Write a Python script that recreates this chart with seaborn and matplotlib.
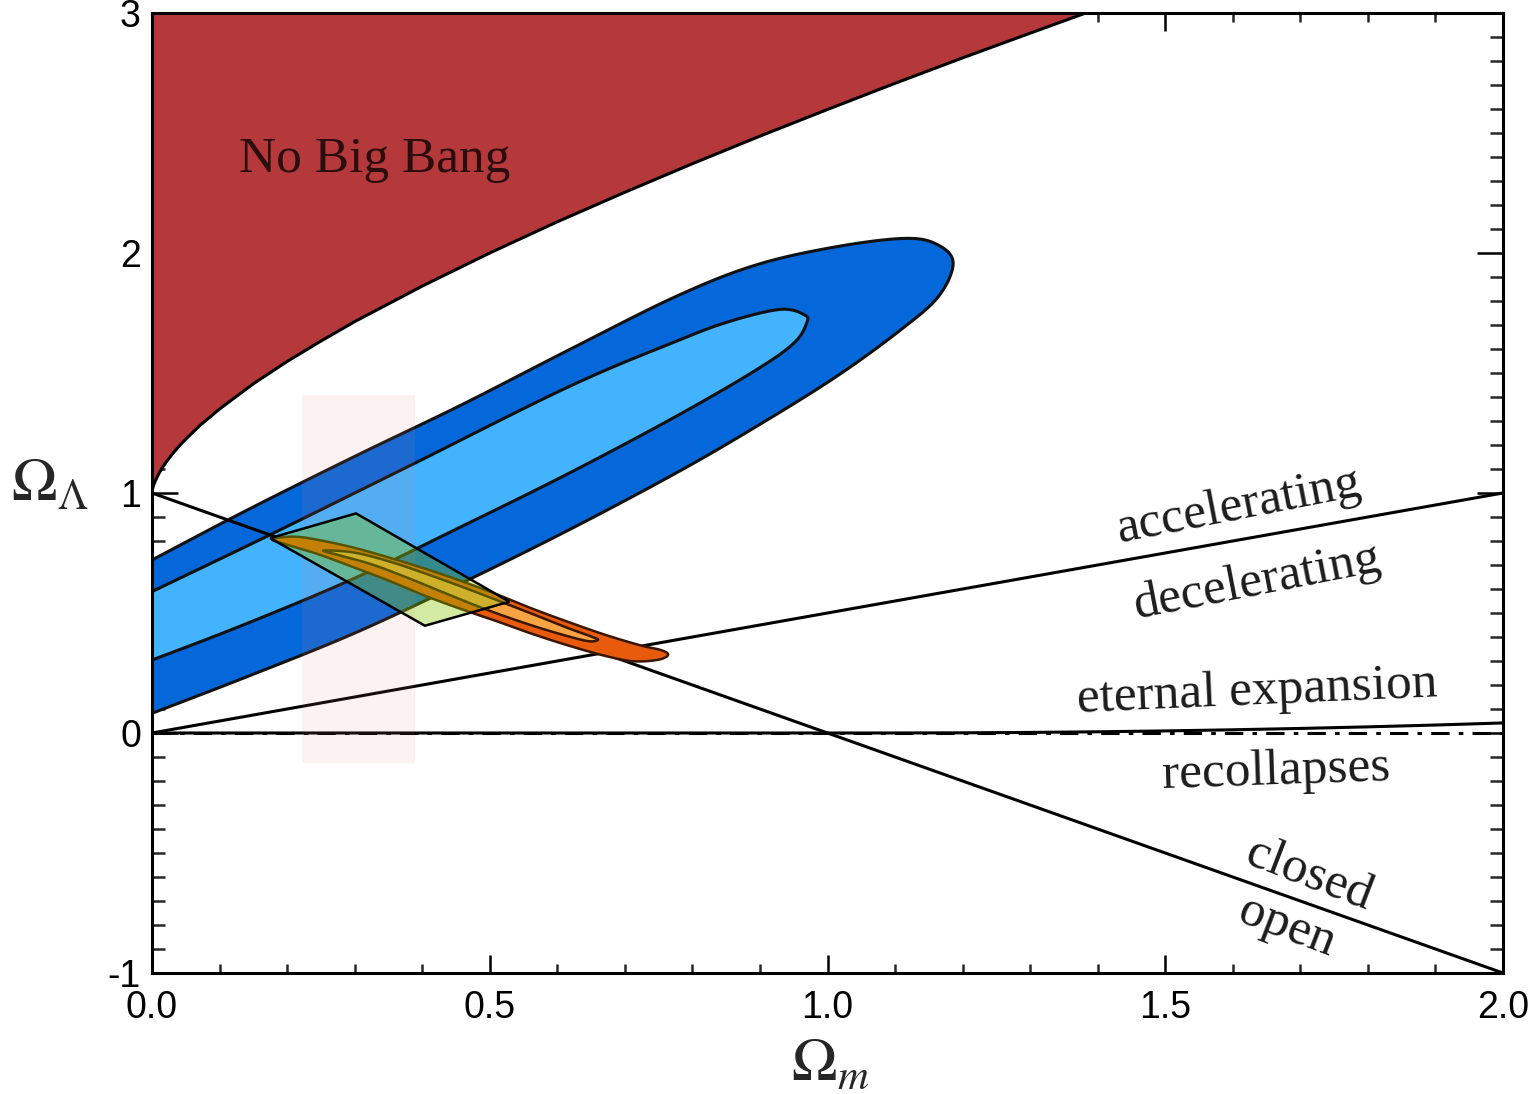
import numpy as np
import matplotlib
matplotlib.use("Agg")
import matplotlib.pyplot as plt
from matplotlib.ticker import MultipleLocator
import pandas as pd
import seaborn as sns

# ---------------------------------------------------------------- data
# "No Big Bang" boundary (Omega_m, Omega_Lambda)
nbb_om = [0.0, 0.001, 0.002, 0.005, 0.01, 0.015, 0.02, 0.03, 0.04, 0.05,
          0.07, 0.1, 0.15, 0.2, 0.25, 0.3, 0.4, 0.5, 0.6, 0.7, 0.8, 0.9,
          1.0, 1.1, 1.2, 1.3, 1.4]
nbb_ol = [1.0, 1.018, 1.029, 1.051, 1.08, 1.104, 1.125, 1.162, 1.195, 1.224,
          1.279, 1.35, 1.455, 1.548, 1.633, 1.714, 1.862, 2.0, 2.13, 2.253,
          2.372, 2.487, 2.598, 2.707, 2.813, 2.916, 3.018]

# flat universe: closed / open
flat_om = [0.0, 2.0]
flat_ol = [1.0, -1.0]

# q0 = 0: accelerating / decelerating
acc_om = [0.0, 2.0]
acc_ol = [0.0, 1.0]

# eternal expansion / recollapse boundary
rec_om = [0.0, 1.0, 1.1, 1.2, 1.3, 1.4, 1.5, 1.6, 1.7, 1.8, 1.9, 2.0]
rec_ol = [0.0, 0.0, 0.0001, 0.0008, 0.0024, 0.005, 0.0087, 0.0134, 0.019,
          0.0256, 0.0332, 0.0419]

# supernova confidence contours (outer = 95 %, inner = 68 %)
sn_outer_om = [-0.1, 0.0, 0.141, 0.299, 0.458, 0.617, 0.775, 0.894, 1.013,
               1.116, 1.164, 1.186, 1.164, 1.108, 1.013, 0.894, 0.775, 0.617,
               0.458, 0.299, 0.141, 0.0, -0.1]
sn_outer_ol = [0.574, 0.721, 0.929, 1.151, 1.367, 1.596, 1.818, 1.950, 2.026,
               2.061, 2.033, 1.957, 1.818, 1.679, 1.485, 1.276, 1.082, 0.846,
               0.624, 0.415, 0.235, 0.082, -0.026]
sn_inner_om = [-0.1, 0.0, 0.169, 0.379, 0.617, 0.775, 0.854, 0.930, 0.966,
               0.969, 0.950, 0.894, 0.775, 0.617, 0.458, 0.299, 0.141, 0.0,
               -0.1]
sn_inner_ol = [0.45, 0.589, 0.818, 1.110, 1.443, 1.631, 1.714, 1.765, 1.742,
               1.707, 1.624, 1.512, 1.318, 1.082, 0.860, 0.644, 0.457, 0.304,
               0.20]

# cluster / BAO contours
cl_outer_om = [0.178, 0.210, 0.247, 0.299, 0.352, 0.405, 0.458, 0.511, 0.564,
               0.617, 0.670, 0.722, 0.754, 0.764, 0.749, 0.712, 0.670, 0.617,
               0.564, 0.511, 0.458, 0.405, 0.352, 0.299, 0.247, 0.204]
cl_outer_ol = [0.807, 0.818, 0.804, 0.772, 0.730, 0.684, 0.633, 0.577, 0.517,
               0.462, 0.410, 0.366, 0.345, 0.325, 0.305, 0.299, 0.322, 0.364,
               0.412, 0.465, 0.516, 0.571, 0.633, 0.690, 0.744, 0.781]
cl_inner_om = [0.254, 0.299, 0.352, 0.405, 0.458, 0.511, 0.564, 0.617, 0.651,
               0.660, 0.643, 0.590, 0.537, 0.485, 0.432, 0.379, 0.326, 0.278]
cl_inner_ol = [0.760, 0.752, 0.714, 0.664, 0.610, 0.553, 0.495, 0.436, 0.401,
               0.388, 0.384, 0.424, 0.472, 0.525, 0.585, 0.646, 0.702, 0.740]

# CMB constraint (parallelogram)
cmb_om = [0.175, 0.302, 0.529, 0.404]
cmb_ol = [0.812, 0.915, 0.547, 0.447]

# Omega_m band from clusters
band_om = [0.222, 0.389]
band_ol = [-0.125, 1.408]

x_ticks = [0.0, 0.5, 1.0, 1.5, 2.0]
x_tick_labels = ["0.0", "0.5", "1.0", "1.5", "2.0"]
y_ticks = [-1, 0, 1, 2, 3]
y_tick_labels = ["-1", "0", "1", "2", "3"]


def closed_outline(xs, ys, n=16):
    """Smooth closed Catmull-Rom outline through the given vertices."""
    p = np.column_stack([xs, ys]).astype(float)
    m = len(p)
    t = np.linspace(0.0, 1.0, n, endpoint=False)[:, None]
    segs = []
    for i in range(m):
        p0, p1, p2, p3 = p[(i - 1) % m], p[i], p[(i + 1) % m], p[(i + 2) % m]
        segs.append(0.5 * (2 * p1 + (p2 - p0) * t
                           + (2 * p0 - 5 * p1 + 4 * p2 - p3) * t ** 2
                           + (3 * p1 - p0 - 3 * p2 + p3) * t ** 3))
    out = np.vstack(segs)
    return out[:, 0], out[:, 1]


# ---------------------------------------------------------------- style
sns.set_theme(style="ticks")
plt.rcParams["font.family"] = ["Liberation Sans", "DejaVu Sans"]
plt.rcParams["mathtext.fontset"] = "stix"

fig = plt.figure(figsize=(15.39, 10.94), dpi=100)
ax = fig.add_axes([152 / 1539, 1 - 973 / 1094, 1351 / 1539, 960 / 1094])

RED = "#B5393B"
BLUE_DARK = "#0467DA"
BLUE_LIGHT = "#43B3FD"
ORANGE_DARK = "#E85B0C"
ORANGE_LIGHT = "#F9A444"
EDGE = "#111111"

# No Big Bang region
ax.fill_between(nbb_om, nbb_ol, 3.2, color=RED, lw=0, zorder=1)
ax.fill_betweenx([1.0, 3.2], -0.1, 0.0, color=RED, lw=0, zorder=1)

# supernova contours
ax.fill(*closed_outline(sn_outer_om, sn_outer_ol), facecolor=BLUE_DARK,
        edgecolor=EDGE, lw=2.2, zorder=2)
ax.fill(*closed_outline(sn_inner_om, sn_inner_ol), facecolor=BLUE_LIGHT,
        edgecolor=EDGE, lw=2.2, zorder=3)

# boundary lines
lines = pd.DataFrame({
    "om": nbb_om + flat_om + acc_om + rec_om,
    "ol": nbb_ol + flat_ol + acc_ol + rec_ol,
    "kind": (["nbb"] * len(nbb_om) + ["flat"] * len(flat_om)
             + ["acc"] * len(acc_om) + ["rec"] * len(rec_om)),
})
sns.lineplot(data=lines, x="om", y="ol", units="kind", estimator=None,
             sort=False, color="black", lw=2.2, ax=ax, zorder=4)
ax.plot([0.0, 2.0], [0.0, 0.0], color="black", lw=2.2,
        ls=(0, (6, 3, 1.5, 3)), zorder=4)

# cluster band
ax.fill_between(band_om, band_ol[0], band_ol[1], color="#F08080",
                alpha=0.1, lw=0, zorder=5)

# cluster / BAO contours
ax.fill(*closed_outline(cl_outer_om, cl_outer_ol), facecolor=ORANGE_DARK,
        edgecolor="#3a1600", lw=1.8, zorder=6)
ax.fill(*closed_outline(cl_inner_om, cl_inner_ol), facecolor=ORANGE_LIGHT,
        edgecolor="#3a1600", lw=1.8, zorder=6)

# CMB parallelogram
ax.fill(cmb_om, cmb_ol, facecolor=(0.53, 0.78, 0.0, 0.36),
        edgecolor="black", lw=1.8, zorder=7)

# ---------------------------------------------------------------- labels
serif = ["Liberation Serif", "DejaVu Serif"]
tcol = "#1c1c1c"
ax.text(0.330, 2.388, "No Big Bang", family=serif, fontsize=37,
        color="#2b0d0d", ha="center", va="center", zorder=8)
ax.text(1.608, 0.942, "accelerating", family=serif, fontsize=37, color=tcol,
        rotation=11, ha="center", va="center", rotation_mode="anchor", zorder=8)
ax.text(1.636, 0.629, "decelerating", family=serif, fontsize=37, color=tcol,
        rotation=11, ha="center", va="center", rotation_mode="anchor", zorder=8)
ax.text(1.636, 0.171, "eternal expansion", family=serif, fontsize=37,
        color=tcol, rotation=2.5, ha="center", va="center",
        rotation_mode="anchor", zorder=8)
ax.text(1.664, -0.163, "recollapses", family=serif, fontsize=37, color=tcol,
        rotation=2, ha="center", va="center", rotation_mode="anchor", zorder=8)
ax.text(1.713, -0.596, "closed", family=serif, fontsize=37, color=tcol,
        rotation=-21, ha="center", va="center", rotation_mode="anchor", zorder=8)
ax.text(1.680, -0.808, "open", family=serif, fontsize=37, color=tcol,
        rotation=-21, ha="center", va="center", rotation_mode="anchor", zorder=8)

# ---------------------------------------------------------------- axes
ax.set_xlim(0, 2)
ax.set_ylim(-1, 3)
ax.set_xticks(x_ticks)
ax.set_xticklabels(x_tick_labels)
ax.set_yticks(y_ticks)
ax.set_yticklabels(y_tick_labels)
ax.xaxis.set_minor_locator(MultipleLocator(0.1))
ax.yaxis.set_minor_locator(MultipleLocator(0.1))

ax.tick_params(axis="x", which="major", direction="in", length=13, width=1.8,
               top=True, bottom=True, labelsize=27, pad=12, colors="black")
ax.tick_params(axis="x", which="minor", direction="in", length=6.5,
               width=1.8, top=True, bottom=True)
ax.tick_params(axis="y", which="major", direction="in", length=18.7,
               width=1.8, left=True, right=True, labelsize=27, pad=8,
               colors="black")
ax.tick_params(axis="y", which="minor", direction="in", length=9.4,
               width=1.8, left=True, right=True)

for side in ["left", "right", "top", "bottom"]:
    ax.spines[side].set_visible(True)
    ax.spines[side].set_linewidth(2.2)
    ax.spines[side].set_color("black")
    ax.spines[side].set_zorder(10)

ax.set_xlabel(r"$\Omega_m$", fontsize=44, va="center", ha="center")
ax.set_ylabel(r"$\Omega_\Lambda$", fontsize=44, rotation=0, va="center",
              ha="center")
ax.xaxis.set_label_coords(0.502, -0.096)
ax.yaxis.set_label_coords(-0.0755, 0.508)

fig.savefig("out.png", dpi=100)
